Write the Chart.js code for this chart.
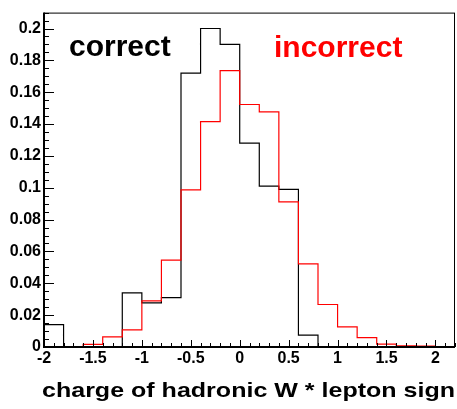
<!DOCTYPE html>
<html>
<head>
<meta charset="utf-8">
<script src="https://cdn.jsdelivr.net/npm/chart.js@4.4.0/dist/chart.umd.min.js"></script>
<style>
html,body{margin:0;padding:0;background:#fff;}
#wrap{width:457px;height:409px;}
</style>
</head>
<body>
<div id="wrap"><canvas id="c" width="457" height="409"></canvas></div>
<script>
// Bin edges (22 edges -> 21 bins of width 0.2)
const binEdges = [-2.0,-1.8,-1.6,-1.4,-1.2,-1.0,-0.8,-0.6,-0.4,-0.2,0.0,0.2,0.4,0.6,0.8,1.0,1.2,1.4,1.6,1.8,2.0,2.2];
// Histogram contents per bin
const correct   = [0.014,0,0,0,0.034,0.0277,0.031,0.172,0.200,0.190,0.128,0.101,0.099,0.0075,0,0,0,0,0,0,0];
const incorrect = [0,0,0.0016,0.0063,0.0108,0.029,0.0546,0.0987,0.1415,0.1735,0.1523,0.1476,0.0911,0.0522,0.0267,0.0126,0.0059,0.0018,0.0008,0.0005,0.0003];
const seriesNames = ["correct","incorrect"];
const xTitle = "charge of hadronic W * lepton sign";
const xMin = -2, xMax = 2.2, yMin = 0, yMax = 0.21;

const FONT = "'Liberation Sans', Arial, Helvetica, sans-serif";

// step points: value of bin i spans [edge i, edge i+1]
function histPoints(vals){
  const pts = [{x:binEdges[0], y:vals[0]}];
  for (let i=0;i<vals.length;i++){
    pts.push({x:binEdges[i+1], y:vals[i]});
  }
  return pts;
}

const rootPlugin = {
  id:'rootStyle',
  afterDraw(chart){
    const ctx = chart.ctx, a = chart.chartArea;
    const xs = chart.scales.x, ys = chart.scales.y;
    ctx.save();
    ctx.strokeStyle = '#000';
    // frame
    ctx.lineWidth = 1;
    ctx.strokeRect(a.left+0.5, a.top+0.5, a.right-a.left-1, a.bottom-a.top);
    ctx.lineWidth = 2;
    ctx.beginPath();
    ctx.moveTo(a.left, a.top); ctx.lineTo(a.left, a.bottom+1);
    ctx.moveTo(a.left-1, a.bottom); ctx.lineTo(a.right, a.bottom);
    ctx.stroke();
    // inward ticks
    ctx.lineWidth = 1;
    ctx.beginPath();
    for(let k=0;k<=42;k++){
      const v = yMin + k*0.005;
      if (v > yMax + 1e-9) break;
      const py = Math.round(ys.getPixelForValue(v))+0.5;
      const len = (k%4===0)?10:5;
      ctx.moveTo(a.left, py); ctx.lineTo(a.left+len, py);
    }
    for(let k=0;k<=42;k++){
      const v = xMin + k*0.1;
      const px = Math.round(xs.getPixelForValue(v))+0.5;
      const len = (k%5===0)?7:4;
      ctx.moveTo(px, a.bottom); ctx.lineTo(px, a.bottom-len);
    }
    ctx.stroke();
    // labels
    ctx.textBaseline = 'alphabetic';
    ctx.font = "bold 30px " + FONT;
    ctx.fillStyle = '#000';
    ctx.textAlign = 'left';
    ctx.fillText(seriesNames[0], 69, 56);
    ctx.fillStyle = '#ff0000';
    ctx.fillText(seriesNames[1], 274, 57);
    // x title, right aligned at axis end
    ctx.fillStyle = '#000';
    ctx.font = "bold 21px " + FONT;
    const w = ctx.measureText(xTitle).width;
    const target = 413;
    const sx = target / w;
    ctx.translate(455 - target, 397);
    ctx.scale(sx, 1);
    ctx.fillText(xTitle, 0, 0);
    ctx.restore();
  }
};

new Chart(document.getElementById('c'), {
  type:'line',
  data:{
    datasets:[
      {label:seriesNames[1], data:histPoints(incorrect), borderColor:'#ff0000', borderWidth:1.2, stepped:'after', pointRadius:0, fill:false, order:0},
      {label:seriesNames[0], data:histPoints(correct), borderColor:'#000000', borderWidth:1.2, stepped:'after', pointRadius:0, fill:false, order:1}
    ]
  },
  options:{
    responsive:false,
    animation:false,
    events:[],
    layout:{padding:{left:0,right:2,top:3,bottom:0}},
    plugins:{legend:{display:false}, tooltip:{enabled:false}},
    scales:{
      x:{
        type:'linear', min:xMin, max:xMax,
        grid:{display:false, drawTicks:false},
        border:{display:false},
        ticks:{stepSize:0.5, includeBounds:false, padding:2, color:'#000', maxRotation:0, autoSkip:false,
          font:{family:FONT, size:16, weight:'bold'},
          callback:(v)=>String(+v.toFixed(2))},
        afterFit(s){ s.height = 62; }
      },
      y:{
        type:'linear', min:yMin, max:yMax,
        grid:{display:false, drawTicks:false},
        border:{display:false},
        ticks:{stepSize:0.02, includeBounds:false, padding:3, color:'#000', autoSkip:false,
          font:{family:FONT, size:16, weight:'bold'},
          callback:(v)=>String(+v.toFixed(3))},
        afterFit(s){ s.width = 44; }
      }
    }
  },
  plugins:[rootPlugin]
});
</script>
</body>
</html>
